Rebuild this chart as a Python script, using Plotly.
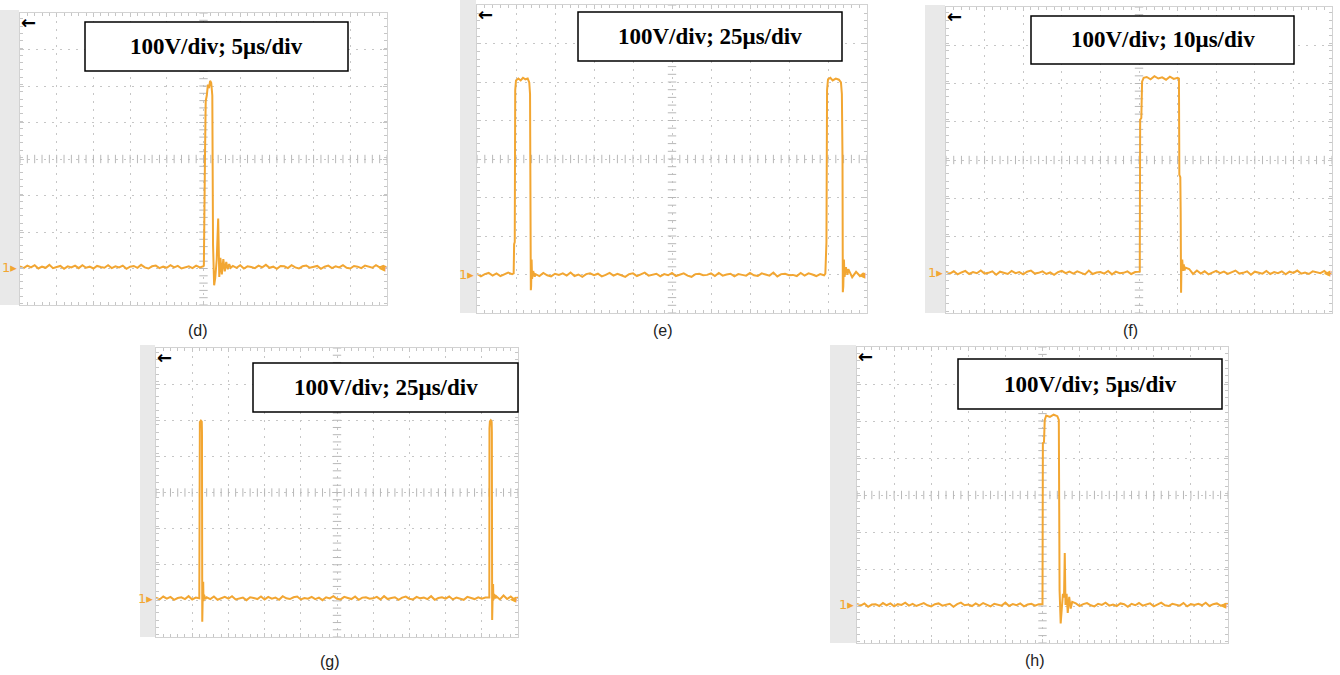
import plotly.graph_objects as go

W, H = 1340, 675

# ---------------- data (time in µs, voltage in V, baseline = 0 V) ----------------
# Panel (d): 5 µs/div
d_pre_t0, d_dt = 0.0, 0.5
d_pre = [2,-3,4,-1,5,-4,1,-2,6,-3, 0,3,-5,2,-1,4,-3,5,-2,1, -4,3,0,-2,5,-3,2,-1,4,-5,
         1,3,-2,6,-1,-4,2,4,-3,1, -2,5,-1,3,-4,0,2,-3,4,-1, 2]
d_evt_t = [25.05, 25.1, 25.2, 25.3, 25.45, 25.6, 25.75, 25.9, 26.05, 26.2, 26.3, 26.45, 26.6,
           26.8, 27.0, 27.15, 27.3, 27.5, 27.7, 27.9, 28.1, 28.3, 28.5, 28.7]
d_evt_v = [5, 290, 300, 455, 470, 500, 490, 510, 505, 470, 60, -50, -30,
           20, 133, -27, 25, -20, 22, -12, 14, -6, 8, -2]
d_post_t0 = 29.0
d_post = [3,-2,5,-4,2,0,-3,4,-1,6, -2,1,-5,3,2,-3,5,-1,-4,2, 4,-2,0,3,-5,1,4,-3,2,-1,
          5,-2,-4,3,1,-3,4,0,-2,5, -1,3,-2]

# Panel (e): 25 µs/div
e_dt = 2.5
e_pre = [3,-4,2,5,-2,4,-3,1,6,2]
e_evt1_t = [23.5, 23.8, 24.2, 24.5, 25.0, 26.5, 28.0, 29.5, 31.0, 32.5, 33.5, 34.0, 34.3,
            34.5, 34.7, 35.0, 35.3, 36.0, 37.0]
e_evt1_v = [4, 80, 85, 480, 505, 510, 505, 512, 508, 510, 500, 470, 300,
            -40, -30, 40, -10, 10, -5]
e_mid_t0 = 37.5
e_mid = [2,-3,5,-1,-4,3,0,4,-2,6, -3,1,-5,2,4,-1,3,-4,0,5, -2,3,-1,-5,2,4,-3,1,6,-2,
         0,3,-4,2,-1,5,-3,1,4,-2, -5,2,3,-1,0,4,-3,5,-2,1, 3,-4,2,0,-2,5,-1,-3,4,1,
         -2,6,-4,2,3,-1,0,-3,5,-2, 4,1,-3,2,-1]
e_evt2_t = [223.3, 223.6, 224.0, 224.4, 225.0, 226.5, 228.0, 230.0, 232.0, 233.3, 233.9, 234.3,
            234.5, 234.8, 235.2, 235.6, 236.5, 237.5]
e_evt2_v = [3, 80, 85, 480, 508, 512, 505, 510, 507, 500, 470, 300,
            -45, -30, 40, -5, 20, 0]
e_post_t0 = 238.0
e_post = [15,-6,8,-3,5]

# Panel (f): 10 µs/div
f_dt = 1.0
f_pre = [3,-2,4,-4,1,5,-3,2,-1,6, -2,0,4,-5,3,1,-3,5,-1,2, -4,3,6,-2,0,4,-3,1,-5,2,
         5,-1,3,-2,4,0,-4,6,-3,1, 2,-2,5,-4,3,-1,0,4,-3,2]
f_evt_t = [50.2, 50.3, 50.6, 50.8, 51.2, 52, 53, 54, 55, 56, 57, 58, 59, 60.0, 60.35,
           60.45, 60.7, 60.8, 60.85, 60.9, 61.0, 61.2, 61.4, 61.6, 61.8, 62.0]
f_evt_v = [3, 400, 405, 500, 510, 512, 506, 514, 508, 511, 505, 513, 507, 510, 508,
           256, 250, 157, 30, -52, 20, 35, 5, 22, 6, 14]
f_post_t0 = 63.0
f_post = [10,-3,6,-2,4,-4,1,5,-1,3, -3,2,6,-2,0,4,-5,3,1,-2, 5,-3,2,-1,4,-4,3,0,6,-2,
          1,-3,4,2,-1,5,-4,2]

# Panel (g): 25 µs/div
g_dt = 2.5
g_pre = [2,-3,5,-1,4,-4,1,3,-2,6,-3,2]
g_evt1_t = [29.9, 30.05, 30.3, 31.0, 31.6, 31.75, 31.85, 31.95, 32.2, 32.6, 32.8, 33.2, 34.0]
g_evt1_v = [0, 470, 488, 492, 489, 460, 30, -65, -10, 46, -8, 10, -2]
g_mid_t0 = 35.0
g_mid = [3,-2,5,-4,1,4,-1,6,-3,0, 2,-5,3,1,-2,5,-3,4,-1,2, -4,6,0,-2,3,5,-3,1,-1,4,
         -2,2,-5,3,0,6,-1,-3,4,1, -2,5,-4,2,3,-1,0,4,-3,6, -2,1,3,-4,2,5,-1,-3,4,0,
         2,-2,6,-4,1,3,-1,5,-3,2, 0,-4,4,1,-2,3,-1,2]
g_evt2_t = [230.2, 230.3, 230.6, 231.2, 231.8, 231.95, 232.05, 232.15, 232.4, 232.8, 233.0, 233.5, 234.5]
g_evt2_v = [2, 470, 490, 493, 489, 460, 30, -60, -10, 40, -5, 12, 0]
g_post_t0 = 235.0
g_post = [6,-3,8,-2,5,-4,3]

# Panel (h): 5 µs/div
h_dt = 0.5
h_pre = [3,-2,4,-5,1,2,-3,5,-1,4, -4,2,0,6,-2,3,-3,1,5,-1, -4,2,4,-2,0,3,-5,2,6,-1,
         1,-3,4,-2,5,0,-4,3,1,-2, 6,-3,2,-1,4,-4,1,3,-2,2]
h_evt_t = [25.0, 25.05, 25.2, 25.3, 25.5, 26.0, 26.5, 27.0, 27.2, 27.3, 27.45, 27.6, 27.75,
           27.9, 28.0, 28.1, 28.25, 28.4, 28.6, 28.8, 29.0]
h_evt_v = [2, 437, 440, 500, 512, 508, 514, 510, 500, 40, -50, -20, 30,
           20, 140, 0, 30, -22, 22, -10, 8]
h_post_t0 = 29.5
h_post = [4,-3,2,5,-1,-4,3,0,6,-2, 1,-3,4,2,-5,3,-1,5,-2,0, 4,-4,2,6,-1,-3,3,1,-2,5,
          -4,2,0,3,-1,6,-3,2,4,-2, 1,3]

labels = ["(d)", "(e)", "(f)", "(g)", "(h)"]
box_texts = ["100V/div; 5μs/div", "100V/div; 25μs/div", "100V/div; 10μs/div",
             "100V/div; 25μs/div", "100V/div; 5μs/div"]
time_per_div = [5, 25, 10, 25, 5]
baseline_div = [1.04, 0.99, 1.05, 1.07, 1.03]


def seg(t0, dt, vals):
    return [t0 + i * dt for i in range(len(vals))], list(vals)


def build(parts):
    T, V = [], []
    for t, v in parts:
        T += list(t)
        V += list(v)
    return T, V


waves = [
    build([seg(d_pre_t0, d_dt, d_pre), (d_evt_t, d_evt_v), seg(d_post_t0, d_dt, d_post)]),
    build([seg(0.0, e_dt, e_pre), (e_evt1_t, e_evt1_v), seg(e_mid_t0, e_dt, e_mid),
           (e_evt2_t, e_evt2_v), seg(e_post_t0, e_dt, e_post)]),
    build([seg(0.0, f_dt, f_pre), (f_evt_t, f_evt_v), seg(f_post_t0, f_dt, f_post)]),
    build([seg(0.0, g_dt, g_pre), (g_evt1_t, g_evt1_v), seg(g_mid_t0, g_dt, g_mid),
           (g_evt2_t, g_evt2_v), seg(g_post_t0, g_dt, g_post)]),
    build([seg(0.0, h_dt, h_pre), (h_evt_t, h_evt_v), seg(h_post_t0, h_dt, h_post)]),
]

# ---------------- layout geometry (pixels) ----------------
plot_px = [(20, 387, 13, 305), (477, 867, 5, 313), (946, 1332, 7, 313),
           (156, 518, 348, 637), (857, 1228, 347, 643)]
strip_px = [(0, 19, 10, 305), (460, 476, 0, 313), (925, 945, 5, 313),
            (140, 155, 345, 637), (830, 856, 345, 643)]
box_px = [(85, 348, 22, 71), (578, 842, 12, 61), (1031, 1294, 16, 64),
          (253, 518, 363, 412), (958, 1222, 359, 409)]
label_px = [(198, 330), (663, 330), (1130, 330), (330, 661), (1035, 660)]


def px(x):
    return x / W


def py(y):
    return 1 - y / H


ORANGE = "#F2A632"
GRID = "#c6c6c6"
TICK = "#b8b8b8"

fig = go.Figure()
shapes, annotations = [], []

for i in range(5):
    n = "" if i == 0 else str(i + 1)
    xa, ya = "x" + n, "y" + n
    tdiv = time_per_div[i]
    y0 = -baseline_div[i] * 100
    x0, x1, yt, yb = plot_px[i]
    common = dict(showgrid=True, gridcolor=GRID, griddash="2px,6px", gridwidth=1,
                  zeroline=False, showticklabels=False, ticks="inside", ticklen=4,
                  tickcolor=GRID, showline=True, linecolor="#d2d2d2", linewidth=1,
                  mirror="ticks", fixedrange=True)
    fig.layout["xaxis" + n] = dict(
        domain=[px(x0), px(x1)], range=[0, 10 * tdiv], tick0=0, dtick=tdiv,
        anchor=ya, minor=dict(dtick=tdiv / 5, ticks="inside", ticklen=3,
                              tickcolor=GRID, showgrid=False), **common)
    fig.layout["yaxis" + n] = dict(
        domain=[py(yb), py(yt)], range=[y0, y0 + 800], tick0=y0, dtick=100,
        anchor=xa, minor=dict(dtick=20, ticks="inside", ticklen=3,
                              tickcolor=GRID, showgrid=False), **common)

    # centre-line graticule ticks
    cx = [k * tdiv / 5 for k in range(51)]
    fig.add_trace(go.Scatter(x=cx, y=[y0 + 400] * len(cx), mode="markers", xaxis=xa, yaxis=ya,
                             marker=dict(symbol="line-ns-open", size=6, color=TICK,
                                         line=dict(color=TICK, width=1)),
                             hoverinfo="skip"))
    cy = [y0 + k * 20 for k in range(41)]
    fig.add_trace(go.Scatter(x=[5 * tdiv] * len(cy), y=cy, mode="markers", xaxis=xa, yaxis=ya,
                             marker=dict(symbol="line-ew-open", size=6, color=TICK,
                                         line=dict(color=TICK, width=1)),
                             hoverinfo="skip"))

    T, V = waves[i]
    fig.add_trace(go.Scatter(x=T, y=V, mode="lines", xaxis=xa, yaxis=ya,
                             line=dict(color=ORANGE, width=2)))

    # grey side strip
    sx0, sx1, sy0, sy1 = strip_px[i]
    shapes.append(dict(type="rect", xref="paper", yref="paper", x0=px(sx0), x1=px(sx1),
                       y0=py(sy1), y1=py(sy0), fillcolor="#e9e9e9", line=dict(width=0),
                       layer="below"))
    # text box
    bx0, bx1, by0, by1 = box_px[i]
    shapes.append(dict(type="rect", xref="paper", yref="paper", x0=px(bx0), x1=px(bx1),
                       y0=py(by1), y1=py(by0), fillcolor="white",
                       line=dict(color="black", width=1.5), layer="above"))
    annotations.append(dict(xref="paper", yref="paper", x=px((bx0 + bx1) / 2),
                            y=py((by0 + by1) / 2), text="<b>" + box_texts[i] + "</b>",
                            showarrow=False, xanchor="center", yanchor="middle",
                            font=dict(family="Liberation Serif", size=23, color="black")))
    # panel label
    lx, ly = label_px[i]
    annotations.append(dict(xref="paper", yref="paper", x=px(lx), y=py(ly), text=labels[i],
                            showarrow=False, xanchor="center", yanchor="middle",
                            font=dict(family="Liberation Sans", size=16, color="#222222")))
    # channel marker "1▸" at baseline
    annotations.append(dict(xref="paper", x=px(x0 - 1), yref=ya, y=0, text="1▸",
                            showarrow=False, xanchor="right", yanchor="middle",
                            font=dict(family="DejaVu Sans", size=13, color=ORANGE)))
    # trigger level marker at right edge
    annotations.append(dict(xref="paper", x=px(x1 + 1), yref=ya, y=0, text="◂",
                            showarrow=False, xanchor="right", yanchor="middle",
                            font=dict(family="DejaVu Sans", size=13, color=ORANGE)))
    # trigger position arrow at top-left
    annotations.append(dict(xref="paper", yref="paper", x=px(x0 - 1), y=py(yt - 3),
                            text="<b>←</b>", showarrow=False, xanchor="left", yanchor="top",
                            font=dict(family="DejaVu Sans", size=18, color="black")))

fig.update_layout(width=W, height=H, margin=dict(l=0, r=0, t=0, b=0),
                  paper_bgcolor="white", plot_bgcolor="white", showlegend=False,
                  shapes=shapes, annotations=annotations)

fig.write_html("out.html", config={"displayModeBar": False},
               post_script="document.body.style.margin='0';document.body.style.padding='0';")
